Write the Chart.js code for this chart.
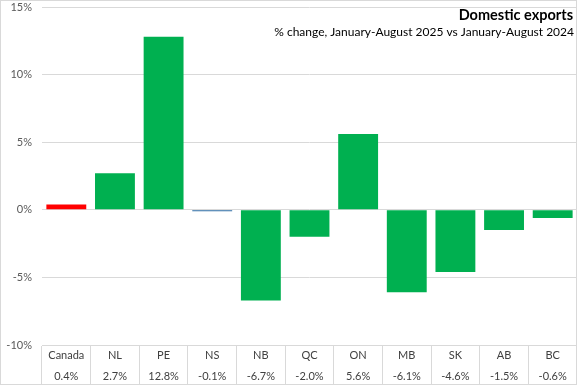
<!DOCTYPE html>
<html>
<head>
<meta charset="utf-8">
<script src="https://cdn.jsdelivr.net/npm/chart.js@4/dist/chart.umd.min.js"></script>
<style>
  html, body { margin: 0; padding: 0; background: #fff; }
  #wrap { width: 577px; height: 385px; }
</style>
</head>
<body>
<div id="wrap"><canvas id="exportsChart"></canvas></div>
<script>
// Data
const regions = ['Canada', 'NL', 'PE', 'NS', 'NB', 'QC', 'ON', 'MB', 'SK', 'AB', 'BC'];
const changes = [0.4, 2.7, 12.8, -0.1, -6.7, -2.0, 5.6, -6.1, -4.6, -1.5, -0.6];
const barColors = ['#FF0000', '#00B050', '#00B050', '#2E6DA4', '#00B050', '#00B050',
                   '#00B050', '#00B050', '#00B050', '#00B050', '#00B050'];
const yTicks = [-10, -5, 0, 5, 10, 15];
const titleText = 'Domestic exports';
const subtitleText = '% change, January-August 2025 vs January-August 2024';

const FONT = 'Lato, "Open Sans", sans-serif';

// title in top right corner + light frame round the whole chart
const decorPlugin = {
    id: 'decor',
    afterDraw(chart) {
        const ctx = chart.ctx;
        ctx.save();
        ctx.strokeStyle = '#d9d9d9';
        ctx.lineWidth = 1;
        ctx.strokeRect(0.5, 0.5, chart.width - 1, chart.height - 1);

        ctx.textAlign = 'right';
        ctx.textBaseline = 'middle';
        ctx.fillStyle = '#000';
        ctx.font = 'bold 14.5px ' + FONT;
        ctx.fillText(titleText, chart.width - 4, 15);
        ctx.font = '12px ' + FONT;
        ctx.fillText(subtitleText, chart.width - 3, 32);
        ctx.restore();
    }
};

const ctx = document.getElementById('exportsChart').getContext('2d');
new Chart(ctx, {
    type: 'bar',
    data: {
        labels: regions.map((r, i) => [r, changes[i].toFixed(1) + '%']),
        datasets: [{
            data: changes,
            backgroundColor: barColors,
            borderWidth: 0,
            barPercentage: 0.82,
            categoryPercentage: 1.0
        }]
    },
    options: {
        responsive: true,
        maintainAspectRatio: false,
        animation: false,
        layout: { padding: { top: 7, right: 0, bottom: 0, left: 0 } },
        plugins: {
            legend: { display: false },
            tooltip: { enabled: false }
        },
        scales: {
            x: {
                grid: {
                    offset: true,
                    drawOnChartArea: false,
                    drawTicks: true,
                    tickLength: 40,
                    color: '#d9d9d9'
                },
                border: { display: true, color: '#d9d9d9' },
                ticks: {
                    autoSkip: false,
                    maxRotation: 0,
                    padding: -40,
                    color: '#404040',
                    font: { family: FONT, size: 11, lineHeight: 1.9 }
                },
                afterFit(scale) { scale.height = 40; }
            },
            y: {
                min: -10,
                max: 15,
                afterBuildTicks(scale) {
                    scale.ticks = yTicks.map(v => ({ value: v }));
                },
                grid: { color: '#d9d9d9', drawTicks: false },
                border: { display: false },
                ticks: {
                    padding: 10,
                    color: '#595959',
                    font: { family: FONT, size: 11 },
                    callback: v => v + '%'
                },
                afterFit(scale) {
                    scale.width = 42;
                    scale.paddingTop = 0;
                    scale.paddingBottom = 0;
                }
            }
        }
    },
    plugins: [decorPlugin]
});
</script>
</body>
</html>
